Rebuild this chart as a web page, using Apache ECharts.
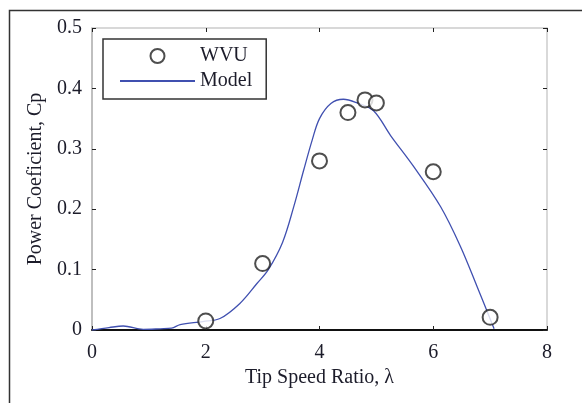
<!DOCTYPE html>
<html>
<head>
<meta charset="utf-8">
<script src="https://cdn.jsdelivr.net/npm/echarts@6/dist/echarts.min.js"></script>
<style>
html,body{margin:0;padding:0;background:#fff;}
#c{width:582px;height:403px;}
</style>
</head>
<body>
<div id="c"></div>
<script>
// Measured data (WVU)
const wvuX = [2, 3, 4, 4.5, 4.8, 5, 6, 7];
const wvuY = [0.015, 0.11, 0.28, 0.36, 0.381, 0.376, 0.262, 0.021];
// Model curve
const modelX = [0, 0.3, 0.55, 0.9, 1.2, 1.4, 1.55, 1.95, 2.25, 2.6, 2.9, 3.1, 3.35, 3.55, 3.72, 3.87, 4.0, 4.2, 4.42, 4.66, 4.95, 5.25, 5.66, 6.13, 6.48, 6.77, 7.07];
const modelY = [0, 0.004, 0.0066, 0.001, 0.002, 0.003, 0.009, 0.014, 0.019, 0.044, 0.077, 0.10, 0.145, 0.205, 0.264, 0.314, 0.350, 0.375, 0.382, 0.376, 0.363, 0.322, 0.27, 0.204, 0.138, 0.072, 0.002];
const xTicks = [0, 2, 4, 6, 8];
const yTicks = [0, 0.1, 0.2, 0.3, 0.4, 0.5];
const xTitle = 'Tip Speed Ratio, λ';
const yTitle = 'Power Coeficient, Cp';

const font = '"Liberation Serif", "DejaVu Serif", serif';
const txt = '#1c1c2a';
const fs = 20;

const chart = echarts.init(document.getElementById('c'), null, {renderer: 'canvas'});
const tickInside = {show: true, inside: true, length: 4, lineStyle: {color: '#222', width: 1}};
chart.setOption({
  animation: false,
  backgroundColor: '#fff',
  grid: {left: 92, top: 28, right: 35, bottom: 73, containLabel: false},
  graphic: [{
    type: 'rect', left: 7, top: 8, z: -1,
    shape: {width: 600, height: 420},
    style: {fill: 'none', stroke: '#333', lineWidth: 1.5}
  }],
  legend: {
    left: 103, top: 39, orient: 'vertical',
    backgroundColor: '#fff',
    borderColor: '#333', borderWidth: 1.5, borderRadius: 0,
    padding: [7, 14, 8, 16],
    itemWidth: 75, itemHeight: 14, itemGap: 5,
    textStyle: {fontFamily: font, fontSize: fs, color: txt},
    data: [
      {name: 'WVU', icon: 'emptyCircle'},
      {name: 'Model', itemStyle: {opacity: 0}}
    ]
  },
  xAxis: [{
    type: 'value', min: 0, max: 8, interval: 2, position: 'bottom',
    axisLine: {show: true, onZero: false, lineStyle: {color: '#111', width: 2}},
    axisTick: tickInside,
    splitLine: {show: false},
    axisLabel: {fontFamily: font, fontSize: fs, color: txt, margin: 13,
      formatter: v => xTicks.includes(v) ? String(v) : ''},
    name: xTitle, nameLocation: 'middle', nameGap: 38,
    nameTextStyle: {fontFamily: font, fontSize: fs, color: txt}
  }, {
    type: 'value', min: 0, max: 8, interval: 2, position: 'top',
    axisLine: {show: true, onZero: false, lineStyle: {color: '#ccc', width: 1.5}},
    axisTick: tickInside, axisLabel: {show: false}, splitLine: {show: false}
  }],
  yAxis: [{
    type: 'value', min: 0, max: 0.5, interval: 0.1, position: 'left',
    axisLine: {show: true, onZero: false, lineStyle: {color: '#aaa', width: 1.5}},
    axisTick: tickInside,
    splitLine: {show: false},
    axisLabel: {fontFamily: font, fontSize: fs, color: txt, margin: 10,
      formatter: v => { const r = Math.round(v * 10) / 10; return yTicks.includes(r) ? String(r) : ''; }},
    name: yTitle, nameLocation: 'middle', nameGap: 46, nameRotate: 90,
    nameTextStyle: {fontFamily: font, fontSize: fs, color: txt}
  }, {
    type: 'value', min: 0, max: 0.5, interval: 0.1, position: 'right',
    axisLine: {show: true, onZero: false, lineStyle: {color: '#ccc', width: 1.5}},
    axisTick: tickInside, axisLabel: {show: false}, splitLine: {show: false}
  }],
  series: [{
    name: 'WVU', type: 'scatter', xAxisIndex: 0, yAxisIndex: 0,
    symbol: 'emptyCircle', symbolSize: 15,
    itemStyle: {color: '#222', borderWidth: 1.3},
    z: 3,
    data: wvuX.map((x, i) => [x, wvuY[i]])
  }, {
    name: 'Model', type: 'line', xAxisIndex: 0, yAxisIndex: 0,
    symbol: 'none', showSymbol: false, smooth: 0.35,
    lineStyle: {color: '#4050b0', width: 1.3},
    itemStyle: {color: '#4050b0'},
    z: 2,
    data: modelX.map((x, i) => [x, modelY[i]])
  }]
});
</script>
</body>
</html>
